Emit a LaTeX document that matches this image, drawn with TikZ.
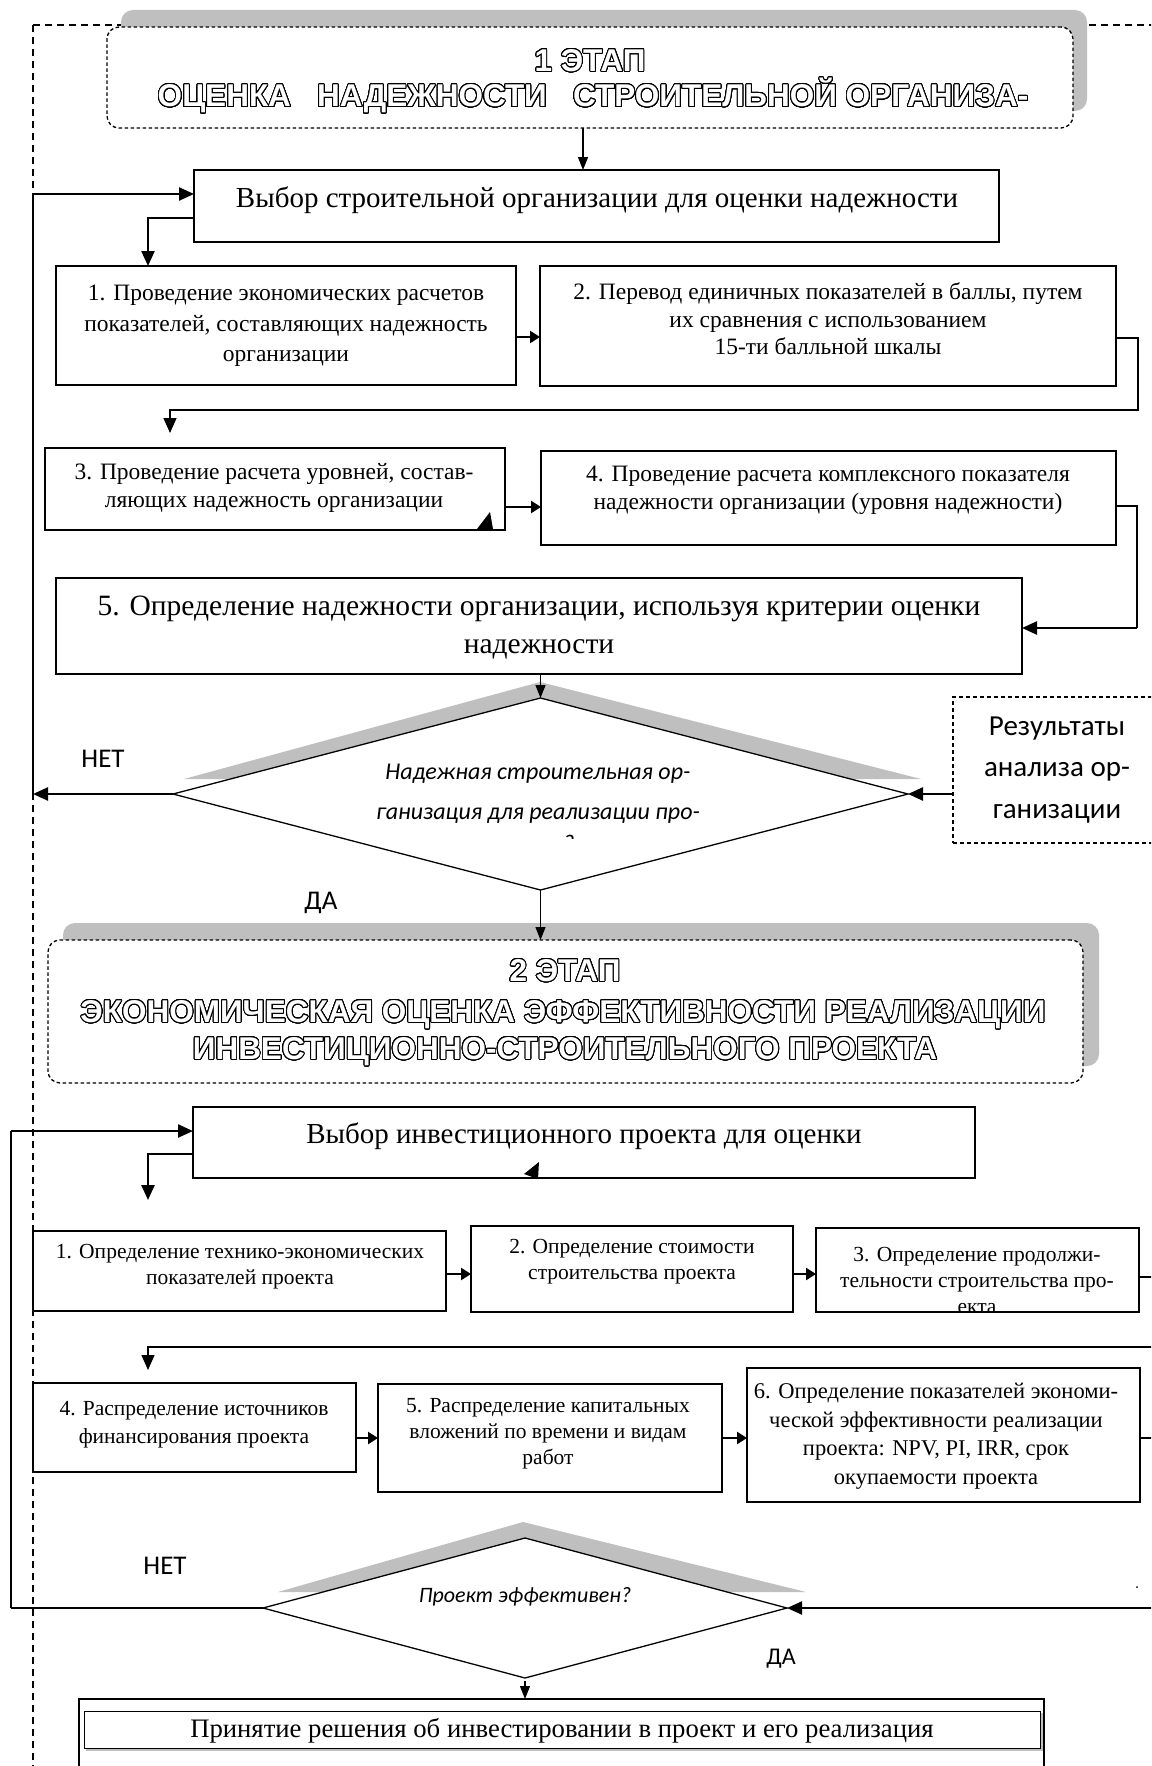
\documentclass[tikz,border=0pt]{standalone}
\usepackage{fontspec}
\setmainfont{Liberation Serif}
\newfontfamily\hdfont{Liberation Sans}
\newfontfamily\clfont{Carlito}
\usepackage{contour}
\contourlength{0.95pt}
\contournumber{32}
\usetikzlibrary{arrows.meta,shapes.geometric,calc}
\definecolor{shd}{RGB}{191,191,191}
\newcommand\outl[1]{{\color{white}\contour{black}{#1}}}
\begin{document}
\begin{tikzpicture}[x=1pt,y=-1pt,
  box/.style={draw, rectangle, line width=1.3pt, fill=white, inner sep=0pt, outer sep=0pt},
  stagebox/.style={draw, rectangle, rounded corners=12pt, dash pattern=on 3.5pt off 2.5pt, line width=1.3pt, fill=white, inner sep=0pt, outer sep=0pt},
  dbox/.style={draw, rectangle, dash pattern=on 4pt off 3pt, line width=1.2pt, fill=white, inner sep=0pt, outer sep=0pt},
  dia/.style={draw, diamond, line width=1.3pt, fill=white, inner sep=0pt, outer sep=0pt},
  frameline/.style={dash pattern=on 7pt off 5pt, line width=1.3pt},
  conn/.style={line width=2.4pt},
  thinconn/.style={line width=1.3pt},
  tip/.style={-{Triangle[length=15pt,width=13pt]}},
  smalltip/.style={-{Triangle[length=13pt,width=10pt]}},
  midtip/.style={-{Triangle[length=10pt,width=12pt]}},
  hd/.style={font=\hdfont\bfseries\fontsize{31.5}{36}\selectfont, inner sep=0pt},
  tbig/.style={font=\fontsize{29}{34}\selectfont, inner sep=0pt, align=center},
  tmid/.style={font=\fontsize{23.5}{28}\selectfont, inner sep=0pt, align=center},
  tsm/.style={font=\fontsize{21.5}{26}\selectfont, inner sep=0pt, align=center},
  tcal/.style={font=\clfont\fontsize{27}{37.5}\selectfont, inner sep=0pt, align=center},
  tcali/.style={font=\clfont\itshape\fontsize{24}{40}\selectfont, inner sep=0pt, align=center}
]
\clip (0,0) rectangle (1151,1766);
\useasboundingbox (0,0) rectangle (1151,1766);
\fill[white] (0,0) rectangle (1151,1766);

% outer dashed frame
\coordinate (fr0) at (33,25);
\coordinate (fr1) at (1165,25);
\coordinate (fr3) at (33,1775);
\draw[frameline] (fr0) -- (fr1);
\draw[frameline] (fr0) -- (fr3);

% ===== stage 1 =====
\fill[shd, rounded corners=12pt] (121,10) rectangle (1087,111);
\node[stagebox, minimum width=966pt, minimum height=101pt] (st1) at (590,77.5) {};
\node[hd] (h1a) at (590,61) {\outl{1 ЭТАП}};
\node[hd] (h1b) at (593,96) {\outl{ОЦЕНКА\ \ \ НАДЕЖНОСТИ\ \ \ СТРОИТЕЛЬНОЙ ОРГАНИЗА-}};

\node[box, minimum width=805pt, minimum height=72pt] (boxA) at (596.5,206) {};
\node[tbig] (tA) at (597,200) {Выбор строительной организации для оценки надежности};

\node[box, minimum width=460pt, minimum height=119pt] (b1) at (286,325.5) {};
\node[tmid, font=\fontsize{23.5}{30.5}\selectfont] (t1) at (286,326) {1. Проведение экономических расчетов\\показателей, составляющих надежность\\организации};

\node[box, minimum width=576pt, minimum height=120pt] (b2) at (828,326) {};
\node[tmid, font=\fontsize{23.5}{27.5}\selectfont] (t2) at (828,319) {2. Перевод единичных показателей в баллы, путем\\их сравнения с использованием\\15-ти балльной шкалы};

\node[box, minimum width=460pt, minimum height=82pt] (b3) at (275,489) {};
\node[tmid] (t3) at (274,488) {3. Проведение расчета уровней, состав-\\ляющих надежность организации};
\fill (477,529) -- (493,529) -- (490,512) -- cycle;

\node[box, minimum width=575pt, minimum height=94pt] (b4) at (828.5,498) {};
\node[tmid] (t4) at (828,490) {4. Проведение расчета комплексного показателя\\надежности организации (уровня надежности)};

\node[box, minimum width=966pt, minimum height=96pt] (b5) at (539,626) {};
\node[tbig, font=\fontsize{29.5}{38}\selectfont] (t5) at (539,628) {5. Определение надежности организации, используя критерии оценки\\надежности};

% diamond 1
\fill[shd] (184,779) -- (540,682) -- (921,779) -- cycle;
\node[dia, minimum width=735pt, minimum height=192pt] (d1) at (540.5,794) {};
\node[tcali] (td1) at (538,794) {Надежная строительная ор-\\ганизация для реализации про-};
\begin{scope}
  \clip (380,700) rectangle (700,838);
  \node[tcali, anchor=base] (td1c) at (542,851) {екта?};
\end{scope}
\node[tcal] (tno1) at (103,759) {НЕТ};
\node[tcal] (tyes1) at (321,903) {ДА};

\node[dbox, minimum width=212pt, minimum height=146pt] (res) at (1059,770) {};
\node[tcal, font=\clfont\fontsize{29}{41.5}\selectfont] (tres) at (1057,770) {Результаты\\анализа ор-\\ганизации};

% ===== stage 2 =====
\fill[shd, rounded corners=12pt] (63,923) rectangle (1099,1066);
\node[stagebox, minimum width=1035pt, minimum height=143pt] (st2) at (565.5,1011.5) {};
\node[hd] (h2a) at (565,971) {\outl{2 ЭТАП}};
\node[hd] (h2b) at (563,1015) {\outl{ЭКОНОМИЧЕСКАЯ ОЦЕНКА ЭФФЕКТИВНОСТИ РЕАЛИЗАЦИИ}};
\node[hd] (h2c) at (565,1052) {\outl{ИНВЕСТИЦИОННО-СТРОИТЕЛЬНОГО ПРОЕКТА}};

\node[box, minimum width=782pt, minimum height=71pt] (boxB) at (584,1142.5) {};
\node[tbig] (tB) at (584,1136) {Выбор инвестиционного проекта для оценки};
\fill (524,1174) -- (539,1162) -- (538,1179) -- cycle;

\node[box, minimum width=413pt, minimum height=80pt] (s1) at (239.5,1271) {};
\node[tsm] (ts1) at (240,1267) {1. Определение технико-экономических\\показателей проекта};
\node[box, minimum width=322pt, minimum height=86pt] (s2) at (632,1269) {};
\node[tsm] (ts2) at (632,1262) {2. Определение стоимости\\строительства проекта};
\node[box, minimum width=323pt, minimum height=84pt] (s3) at (977.5,1270) {};
\begin{scope}
  \clip (s3.north west) rectangle (s3.south east);
  \node[tsm, font=\fontsize{21.5}{26}\selectfont] (ts3) at (977,1280) {3. Определение продолжи-\\тельности строительства про-\\екта};
\end{scope}

\node[box, minimum width=323pt, minimum height=89pt] (s4) at (194.5,1427.5) {};
\node[tsm, font=\fontsize{21.5}{28}\selectfont] (ts4) at (194,1425) {4. Распределение источников\\финансирования проекта};
\node[box, minimum width=344pt, minimum height=108pt] (s5) at (550,1438) {};
\node[tsm] (ts5) at (548,1434) {5. Распределение капитальных\\вложений по времени и видам\\работ};
\node[box, minimum width=393pt, minimum height=134pt] (s6) at (943.5,1435) {};
\node[tsm, font=\fontsize{22.5}{28.5}\selectfont] (ts6) at (936,1436) {6. Определение показателей экономи-\\ческой эффективности реализации\\проекта: NPV, PI, IRR, срок\\окупаемости проекта};

% diamond 2
\fill[shd] (278,1592) -- (523,1522) -- (806,1592) -- cycle;
\node[dia, minimum width=524pt, minimum height=140pt] (d2) at (525,1608) {};
\node[tcali, font=\clfont\itshape\fontsize{22}{30}\selectfont] (td2) at (525,1597) {Проект эффективен?};
\node[tcal] (tno2) at (165,1566) {НЕТ};
\node[tcal, font=\clfont\fontsize{24}{30}\selectfont] (tyes2) at (781,1659) {ДА};
\fill (1137,1587) circle (1pt);

% final box
\node[box, minimum width=965pt, minimum height=101pt] (fin) at (561.5,1749.5) {};
\draw[shd, line width=1.8pt] (86,1750) -- (1042,1750) -- (1042,1713);
\node[box, line width=1pt, minimum width=956pt, minimum height=37pt] (fini) at (562,1729.5) {};
\node[tbig, font=\fontsize{26.7}{30}\selectfont] (tfin) at (562,1731) {Принятие решения об инвестировании в проект и его реализация};

% ===== connectors =====
\coordinate (c1) at (583,0);
\draw[thinconn, smalltip] (st1.south -| c1) -- (boxA.north -| c1);

\coordinate (fbx1) at (33,194);
\draw[conn, tip] (d1.west) -- (d1.west -| fbx1);
\draw[thinconn] (d1.west -| fbx1) -- (fbx1);
\draw[conn, tip] (fbx1) -- (boxA.west |- fbx1);

\coordinate (c4) at (148,218);
\draw[conn, tip] (boxA.west |- c4) -- (c4) -- (c4 |- b1.north);

\coordinate (c5) at (0,337);
\draw[conn, midtip] (b1.east |- c5) -- (b2.west |- c5);

\coordinate (c6a) at (1138,338);
\coordinate (c6b) at (170,410);
\coordinate (c6e) at (170,433);
\draw[thinconn, tip] (b2.east |- c6a) -- (c6a) |- (c6b) -- (c6e);

\coordinate (c7) at (0,507);
\draw[conn, midtip] (b3.east |- c7) -- (b4.west |- c7);

\coordinate (c8a) at (1137,506);
\coordinate (c8b) at (1137,628);
\draw[thinconn] (b4.east |- c8a) -- (c8a) -- (c8b);
\draw[conn, tip] (c8b) -- (b5.east |- c8b);

\draw[thinconn, smalltip] (d1.north |- b5.south) -- (d1.north);
\draw[conn, tip] (res.west |- d1.east) -- (d1.east);
\draw[thinconn, smalltip] (d1.south) -- (d1.south |- st2.north);

\coordinate (fbx2) at (11,1131);
\draw[conn] (d2.west) -- (d2.west -| fbx2);
\draw[thinconn] (d2.west -| fbx2) -- (fbx2);
\draw[conn, tip] (fbx2) -- (boxB.west |- fbx2);

\coordinate (c13) at (148,1154);
\coordinate (c13e) at (148,1200);
\draw[conn, tip] (boxB.west |- c13) -- (c13) -- (c13e);

\coordinate (c14) at (0,1274);
\draw[conn, midtip] (s1.east |- c14) -- (s2.west |- c14);
\draw[conn, midtip] (s2.east |- c14) -- (s3.west |- c14);
\coordinate (c15) at (1165,1277);
\draw[thinconn] (s3.east |- c15) -- (c15);

\coordinate (c16a) at (1165,1347);
\coordinate (c16b) at (148,1347);
\coordinate (c16e) at (148,1370);
\draw[thinconn, tip] (c16a) -- (c16b) -- (c16e);

\coordinate (c17) at (0,1438);
\draw[conn, midtip] (s4.east |- c17) -- (s5.west |- c17);
\draw[conn, midtip] (s5.east |- c17) -- (s6.west |- c17);
\coordinate (c18) at (1165,1438);
\draw[thinconn] (s6.east |- c18) -- (c18);

\coordinate (c19) at (1165,1608);
\draw[conn, tip] (c19) -- (d2.east);

\coordinate (c20) at (525,1681);
\draw[thinconn, smalltip] (c20) -- (c20 |- fin.north);
\end{tikzpicture}
\end{document}
